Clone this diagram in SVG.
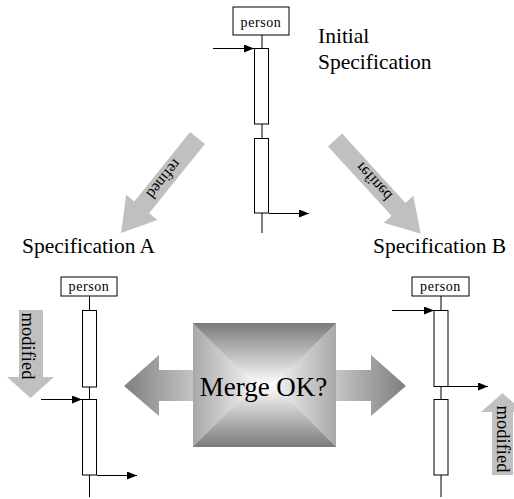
<svg xmlns="http://www.w3.org/2000/svg" width="514" height="499" viewBox="0 0 514 499">
<style>
.ln{stroke:#000;stroke-width:1;fill:none}
.bar{fill:#fff;stroke:#000;stroke-width:1}
.box{fill:#fff;stroke:#000;stroke-width:1}
.pt{font-family:"Liberation Serif",serif;font-size:14px;fill:#000;text-anchor:middle;letter-spacing:0.6px}
.lbl{font-family:"Liberation Serif",serif;font-size:21.5px;fill:#000}
.bl{fill:#c0c0c0}
.bt{font-family:"Liberation Serif",serif;font-size:16px;fill:#000;text-anchor:middle}
.mt{font-family:"Liberation Serif",serif;font-size:18.5px;fill:#000;text-anchor:middle}
</style>
<defs>
<marker id="ah" markerWidth="10" markerHeight="8" refX="10" refY="4" orient="auto" markerUnits="userSpaceOnUse">
<path d="M0,0 L10,4 L0,8 z" fill="#000"/>
</marker>
<linearGradient id="gTop" gradientUnits="userSpaceOnUse" x1="0" y1="323" x2="0" y2="385">
<stop offset="0" stop-color="#7a7a7a"/><stop offset="1" stop-color="#ffffff"/>
</linearGradient>
<linearGradient id="gBot" gradientUnits="userSpaceOnUse" x1="0" y1="447" x2="0" y2="385">
<stop offset="0" stop-color="#7a7a7a"/><stop offset="1" stop-color="#ffffff"/>
</linearGradient>
<linearGradient id="gSide" gradientUnits="userSpaceOnUse" x1="193" y1="0" x2="336" y2="0">
<stop offset="0" stop-color="#a8a8a8"/><stop offset="0.5" stop-color="#ffffff"/><stop offset="1" stop-color="#a8a8a8"/>
</linearGradient>
<linearGradient id="gL" gradientUnits="userSpaceOnUse" x1="124" y1="0" x2="193" y2="0">
<stop offset="0" stop-color="#7e7e7e"/><stop offset="1" stop-color="#c4c4c4"/>
</linearGradient>
<linearGradient id="gR" gradientUnits="userSpaceOnUse" x1="406" y1="0" x2="336" y2="0">
<stop offset="0" stop-color="#7e7e7e"/><stop offset="1" stop-color="#c4c4c4"/>
</linearGradient>
</defs>

<g id="refined-left">
<g transform="translate(197.5,138) rotate(128.8)">
<path class="bl" d="M0,-9.5 L89,-9.5 L89,-20 L122,0 L89,20 L89,9.5 L0,9.5 z"/>
<text class="bt" x="53" y="5.5">refined</text>
</g>
</g>
<g id="refined-right">
<g transform="translate(335,140) rotate(47.5)">
<path class="bl" d="M0,-9.5 L94,-9.5 L94,-20 L127,0 L94,20 L94,9.5 L0,9.5 z"/>
<g transform="scale(1,-1)"><text class="bt" x="57" y="5.5">refined</text></g>
</g>
</g>

<g id="modified-left">
<path class="bl" d="M19,310 L43,310 L43,377 L54,377 L30.5,398 L7,377 L19,377 z"/>
<text class="mt" transform="translate(21.5,346) rotate(90)">modified</text>
</g>
<g id="modified-right">
<path class="bl" d="M492,475 L513,475 L513,412 L524,412 L502.5,393 L481,412 L492,412 z"/>
<text class="mt" transform="translate(496.5,439) rotate(90)">modified</text>
</g>

<g id="merge">
<path fill="url(#gL)" d="M193,370 L159,370 L159,355 L124,386 L159,416 L159,401 L193,401 z"/>
<path fill="url(#gR)" d="M336,370 L371,370 L371,355 L406,386 L371,416 L371,401 L336,401 z"/>
<rect x="193" y="323" width="143" height="124" fill="url(#gSide)"/>
<path fill="url(#gTop)" d="M193,323 L336,323 L274,385 L255,385 z"/>
<path fill="url(#gBot)" d="M193,447 L336,447 L274,385 L255,385 z"/>
<text x="263.5" y="396" font-family="'Liberation Serif',serif" font-size="27" text-anchor="middle" fill="#000">Merge OK?</text>
</g>

<g id="labels">
<text class="lbl" x="318" y="43">Initial</text>
<text class="lbl" x="318" y="69">Specification</text>
<text class="lbl" x="22" y="253">Specification A</text>
<text class="lbl" x="373" y="253">Specification B</text>
</g>

<g id="seq-initial">
<rect class="box" x="233" y="7" width="56" height="28"/>
<text class="pt" x="261" y="27">person</text>
</g>
<g id="seq-a">
<rect class="box" x="61" y="277" width="56" height="19"/>
<text class="pt" x="89" y="291">person</text>
</g>
<g id="seq-b">
<rect class="box" x="412" y="277" width="57" height="19"/>
<text class="pt" x="440.5" y="291">person</text>
</g>

<g id="connectors">
<line class="ln" x1="262" y1="35" x2="262" y2="48"/>
<line class="ln" x1="262" y1="124" x2="262" y2="138"/>
<line class="ln" x1="262" y1="213" x2="262" y2="233"/>
<rect class="bar" x="254.5" y="48.5" width="14" height="75.5"/>
<rect class="bar" x="254.5" y="138.5" width="14" height="74.5"/>
<line class="ln" x1="213" y1="48.5" x2="254" y2="48.5" marker-end="url(#ah)"/>
<line class="ln" x1="269" y1="213.5" x2="309" y2="213.5" marker-end="url(#ah)"/>

<line class="ln" x1="89.5" y1="296" x2="89.5" y2="310"/>
<line class="ln" x1="89.5" y1="387" x2="89.5" y2="399"/>
<line class="ln" x1="89.5" y1="475" x2="89.5" y2="497"/>
<rect class="bar" x="82.5" y="310.5" width="14" height="76.5"/>
<rect class="bar" x="82.5" y="399.5" width="14" height="75.5"/>
<line class="ln" x1="41" y1="399.5" x2="82" y2="399.5" marker-end="url(#ah)"/>
<line class="ln" x1="97" y1="475.5" x2="137" y2="475.5" marker-end="url(#ah)"/>

<line class="ln" x1="441" y1="296" x2="441" y2="310"/>
<line class="ln" x1="441" y1="386" x2="441" y2="399"/>
<line class="ln" x1="441" y1="475" x2="441" y2="497"/>
<rect class="bar" x="434" y="310.5" width="14" height="76"/>
<rect class="bar" x="434" y="399.5" width="14" height="75.5"/>
<line class="ln" x1="392" y1="310.5" x2="434" y2="310.5" marker-end="url(#ah)"/>
<line class="ln" x1="448" y1="386.5" x2="488" y2="386.5" marker-end="url(#ah)"/>
</g>
</svg>
